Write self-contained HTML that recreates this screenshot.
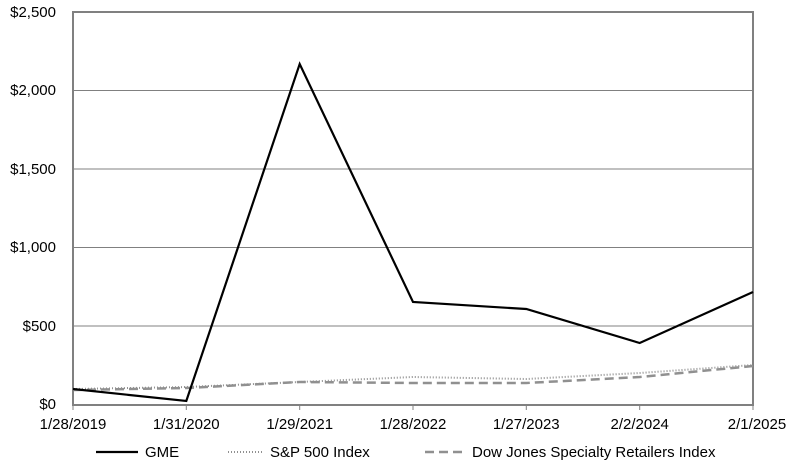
<!DOCTYPE html><html><head><style>body{margin:0;background:#fff}svg{display:block}text{font-family:"Liberation Sans",Arial,sans-serif;font-size:15px;fill:#000}</style></head><body>
<svg width="795" height="473" xmlns="http://www.w3.org/2000/svg">
<g stroke="#808080" stroke-width="1">
<line x1="73" y1="90.5" x2="753" y2="90.5"/><line x1="73" y1="169" x2="753" y2="169"/><line x1="73" y1="247.5" x2="753" y2="247.5"/><line x1="73" y1="326" x2="753" y2="326"/>
</g>
<rect x="73" y="12" width="680" height="393" fill="none" stroke="#808080" stroke-width="2"/>
<g stroke="#808080" stroke-width="1">
<line x1="73" y1="405" x2="73" y2="410"/><line x1="186.3" y1="405" x2="186.3" y2="410"/><line x1="299.7" y1="405" x2="299.7" y2="410"/><line x1="413" y1="405" x2="413" y2="410"/><line x1="526.3" y1="405" x2="526.3" y2="410"/><line x1="639.7" y1="405" x2="639.7" y2="410"/><line x1="753" y1="405" x2="753" y2="410"/>
</g>
<g text-anchor="end">
<text x="56" y="17">$2,500</text><text x="56" y="95">$2,000</text><text x="56" y="174">$1,500</text><text x="56" y="252">$1,000</text><text x="56" y="331">$500</text><text x="56" y="409">$0</text>
</g>
<g text-anchor="middle">
<text x="73" y="429">1/28/2019</text><text x="186.3" y="429">1/31/2020</text><text x="299.7" y="429">1/29/2021</text><text x="413" y="429">1/28/2022</text><text x="526.3" y="429">1/27/2023</text><text x="639.7" y="429">2/2/2024</text><text x="757" y="429">2/1/2025</text>
</g>
<polyline points="73,389 186.3,387 299.7,382 413,377 526.3,379 639.7,373 753,365" fill="none" stroke="#909090" stroke-width="2" stroke-dasharray="1,2"/>
<polyline points="73,390 186.3,388 299.7,382 413,383 526.3,383 639.7,377 753,366" fill="none" stroke="#909090" stroke-width="2.5" stroke-dasharray="9,5"/>
<polyline points="73,389 186.3,401 299.7,64 413,302 526.3,309 639.7,343 753,292" fill="none" stroke="#000" stroke-width="2.2"/>
<line x1="96" y1="452" x2="138" y2="452" stroke="#000" stroke-width="2.2"/>
<text x="145" y="457">GME</text>
<line x1="228" y1="452" x2="264" y2="452" stroke="#909090" stroke-width="2" stroke-dasharray="1,2"/>
<text x="270" y="457">S&amp;P 500 Index</text>
<line x1="425" y1="452" x2="467" y2="452" stroke="#909090" stroke-width="2.5" stroke-dasharray="9,5"/>
<text x="472" y="457">Dow Jones Specialty Retailers Index</text>
</svg></body></html>
